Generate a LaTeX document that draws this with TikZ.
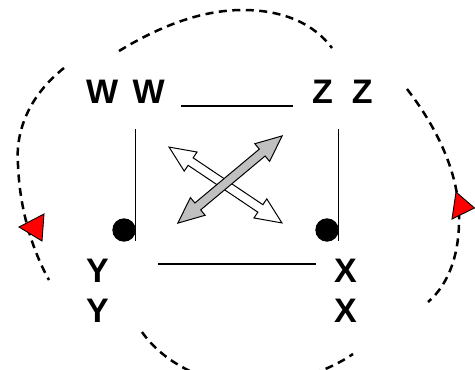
\documentclass[tikz,border=0pt]{standalone}
\usepackage{fontspec}
\setmainfont{Liberation Sans}
\definecolor{arrowgray}{RGB}{192,192,192}
\definecolor{markred}{RGB}{255,0,0}
\newcommand\mydblarrow[4]{%
  \begin{scope}[shift={(#1,#2)},rotate=#3]
    \filldraw[blockarrow, fill=#4] (-68,0) -- (-42,11.5) -- (-42,4.5) -- (42,4.5) -- (42,11.5) -- (68,0) -- (42,-11.5) -- (42,-4.5) -- (-42,-4.5) -- (-42,-11.5) -- cycle;
  \end{scope}}
\tikzset{
  lbl/.style={anchor=base west, inner sep=0pt, font=\fontsize{34}{40}\selectfont\bfseries},
  loop/.style={line width=2.5pt, dash pattern=on 8pt off 5.5pt},
  thin/.style={line width=1.4pt},
  blockarrow/.style={draw=black, line width=1pt, line join=miter},
  marker/.style={fill=markred, draw=black, line width=0.9pt, line join=miter},
  notehead/.style={fill=black, draw=none}
}
\begin{document}
\begin{tikzpicture}[x=1pt, y=-1pt]
  \clip (0,0) rectangle (475,370);
  \fill[white] (0,0) rectangle (475,370);

  % labels
  \node[lbl] (w) at (86,103.5) {W\hspace{5pt} W};
  \node[lbl] (z) at (312,103.5) {Z\ \ Z};
  \node[lbl] (y1) at (86,282) {Y};
  \node[lbl] (y2) at (86,322.3) {Y};
  \node[lbl] (x1) at (334,282) {X};
  \node[lbl] (x2) at (334,322.3) {X};

  % lines
  \draw[thin] (181,106) -- (293,106);
  \draw[thin] (158,264) -- (316,264);
  \draw[line width=1.1pt] (135.7,129) -- (135.7,241);
  \draw[line width=1.1pt] (338.7,129) -- (338.7,241);
  \fill[notehead] (124,230) circle (11.7);
  \fill[notehead] (327,230) circle (11.7);

  % crossing double arrows
  \mydblarrow{225.5}{185}{-33.9}{white}
  \mydblarrow{230}{179.5}{39.9}{arrowgray}

  % dashed loops
  \draw[loop] (119,51) .. controls (170,20) and (210,10) .. (243,10) .. controls (285,10) and (315,25) .. (332,48);
  \draw[loop] (64,68) .. controls (30,95) and (15,130) .. (18,165) .. controls (20,215) and (35,255) .. (49,280);
  \draw[loop] (407,89) .. controls (435,125) and (458,170) .. (459,215) .. controls (460,255) and (448,285) .. (428,302);
  \draw[loop] (142,332) .. controls (165,365) and (210,385) .. (250,385) .. controls (290,385) and (330,370) .. (353,354);

  % red markers
  \filldraw[marker] (19,227) -- (44,214) -- (42,241) -- cycle;
  \filldraw[marker] (456,192) -- (474.5,208) -- (452,219) -- cycle;
\end{tikzpicture}
\end{document}
